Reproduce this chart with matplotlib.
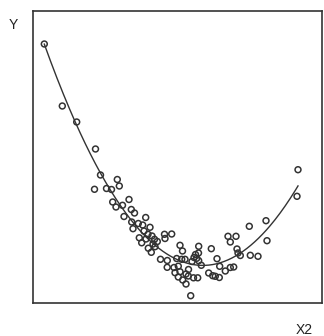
import numpy as np
import matplotlib
matplotlib.use("Agg")
import matplotlib.pyplot as plt

plt.rcParams['font.family'] = ['Liberation Sans', 'DejaVu Sans']

x2 = [11.3, 29.3, 43.7, 62.5, 67.5, 84.3, 86.3, 61.5, 73.5, 78.5,
      79.7, 96.0, 83.0, 89.5, 98.3, 101.5, 91.0, 98.7, 105.3, 112.7,
      109.7, 100.0, 117.0, 111.0, 115.0, 119.0, 106.3, 113.0, 121.5, 124.3,
      131.5, 138.7, 132.0, 108.7, 120.0, 115.3, 118.3, 147.0, 127.5, 134.3,
      149.5, 143.7, 148.7, 152.0, 134.2, 141.0, 145.3, 155.5, 153.0, 142.0,
      145.3, 149.7, 153.0, 160.5, 164.7, 165.5, 163.7, 157.7, 165.7, 178.3,
      162.5, 161.0, 184.0, 165.7, 168.3, 186.7, 175.7, 179.7, 182.3, 186.3,
      192.3, 197.3, 200.7, 195.0, 203.0, 197.3, 204.0, 205.0, 207.3, 217.3,
      225.0, 216.3, 233.0, 234.0, 264.0, 265.0, 147.0, 155.3, 122.0, 159.0]
y = [259.0, 197.0, 181.0, 154.0, 128.0, 123.5, 117.0, 113.7, 114.5, 113.5,
     101.0, 103.5, 96.0, 97.7, 93.5, 90.0, 86.5, 81.0, 79.5, 85.5,
     78.0, 74.3, 75.7, 72.0, 68.7, 67.0, 65.2, 64.0, 63.7, 61.5,
     68.7, 69.0, 64.5, 60.2, 59.0, 54.8, 50.7, 57.7, 43.7, 42.5,
     52.0, 44.5, 43.7, 43.7, 35.7, 35.5, 36.8, 33.5, 29.0, 30.3,
     26.0, 23.0, 19.0, 25.2, 25.2, 50.0, 44.7, 7.3, 56.7, 54.3,
     48.5, 45.5, 44.3, 42.3, 37.7, 36.7, 30.0, 27.3, 26.7, 25.5,
     32.0, 35.5, 36.0, 66.7, 66.7, 61.0, 54.0, 50.0, 47.5, 47.7,
     46.7, 76.7, 82.3, 62.3, 106.7, 133.3, 31.3, 27.0, 56.3, 41.5]

x_label = "X2"
y_label = "Y"

xa = np.array(x2)
ya = np.array(y)

fig = plt.figure(figsize=(3.24, 3.36), dpi=100)
ax = fig.add_axes([33/324, (336-303)/336, 289/324, 292/336])

coef = np.polyfit(xa, ya, 2)
xs = np.linspace(xa.min(), xa.max(), 200)
ax.plot(xs, np.polyval(coef, xs), color='#333333', lw=1.0)
ax.scatter(xa, ya, s=18, facecolors='none', edgecolors='#333333', linewidths=1.1, zorder=3)

ax.set_xlim(0, 289)
ax.set_ylim(0, 292)
ax.set_xticks([])
ax.set_yticks([])
for s in ax.spines.values():
    s.set_color('#333333')
    s.set_linewidth(1.2)

fig.text(13/324, 1 - 25/336, y_label, fontsize=10, ha='center', va='center', color='#222222')
fig.text(304/324, 1 - 330/336, x_label, fontsize=10, ha='center', va='center', color='#222222')

fig.savefig("out.png", dpi=100)
